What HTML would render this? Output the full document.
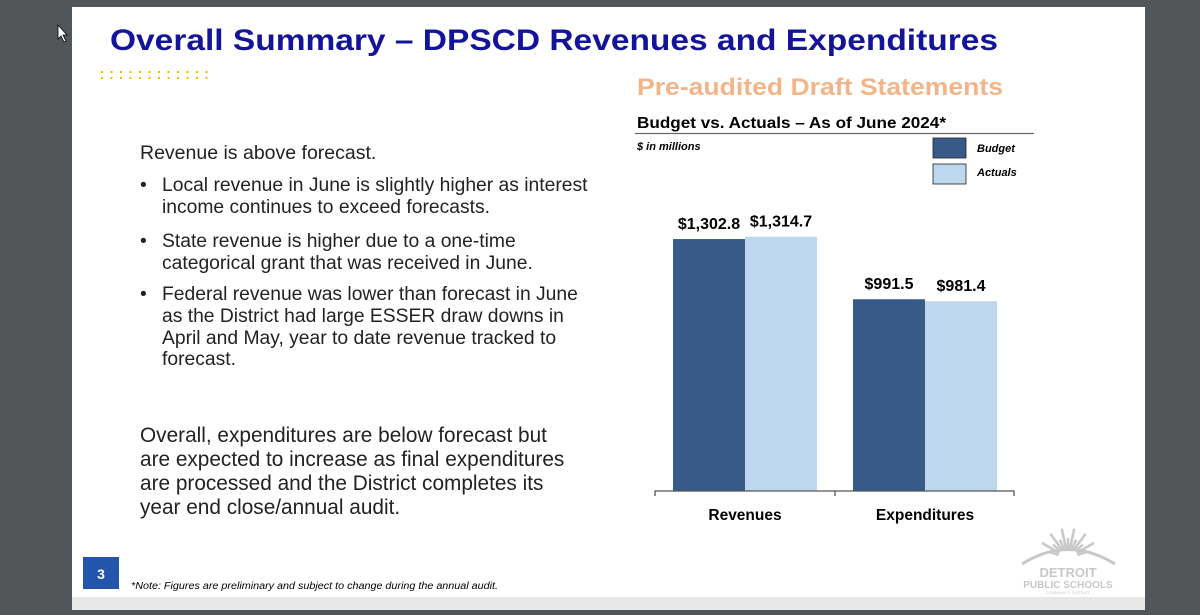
<!DOCTYPE html>
<html><head><meta charset="utf-8"><style>
body{margin:0;background:#525659;}
svg{display:block;font-family:"Liberation Sans",sans-serif;}
</style></head><body>
<svg width="1200" height="615" viewBox="0 0 1200 615">
<rect x="0" y="0" width="1200" height="615" fill="#525659"/>
<polygon points="58,25 58,39 61,36 64,42 66,41 63,35 67,35" fill="#fff" stroke="#000" stroke-width="0.8"/>
<rect x="72" y="7" width="1073" height="603" fill="#fff"/>
<rect x="72" y="597" width="1073" height="13" fill="#e7e7e7"/>
<text x="110" y="50" font-size="30" font-weight="bold" fill="#14149a" textLength="888" lengthAdjust="spacingAndGlyphs">Overall Summary – DPSCD Revenues and Expenditures</text>
<g id="dots" fill="#f5b800"></g>
<g font-size="19.3" fill="#222">
<text x="140" y="159" font-size="19.5">Revenue is above forecast.</text>
<text x="140" y="191">•</text><text x="162" y="191">Local revenue in June is slightly higher as interest</text>
<text x="162" y="213">income continues to exceed forecasts.</text>
<text x="140" y="247">•</text><text x="162" y="247">State revenue is higher due to a one-time</text>
<text x="162" y="269">categorical grant that was received in June.</text>
<text x="140" y="300">•</text><text x="162" y="300">Federal revenue was lower than forecast in June</text>
<text x="162" y="322">as the District had large ESSER draw downs in</text>
<text x="162" y="344">April and May, year to date revenue tracked to</text>
<text x="162" y="365">forecast.</text>
<g font-size="20.8">
<text x="140" y="442">Overall, expenditures are below forecast but</text>
<text x="140" y="466">are expected to increase as final expenditures</text>
<text x="140" y="490">are processed and the District completes its</text>
<text x="140" y="514">year end close/annual audit.</text>
</g></g>
<text x="637" y="95" font-size="24" font-weight="bold" fill="#f2b58a" textLength="366" lengthAdjust="spacingAndGlyphs">Pre-audited Draft Statements</text>
<text x="637" y="128" font-size="16" font-weight="bold" fill="#000" textLength="309" lengthAdjust="spacingAndGlyphs">Budget vs. Actuals – As of June 2024*</text>
<line x1="635" y1="133.5" x2="1034" y2="133.5" stroke="#666" stroke-width="1.2"/>
<text x="637" y="150" font-size="11" font-style="italic" font-weight="bold" fill="#000">$ in millions</text>
<g><rect x="933" y="138" width="33" height="20" fill="#385a88" stroke="#222" stroke-width="0.8"/><text x="977" y="152" font-size="11" font-style="italic" font-weight="bold">Budget</text></g>
<g><rect x="933" y="164" width="33" height="20" fill="#bdd7ee" stroke="#222" stroke-width="0.8"/><text x="977" y="176" font-size="11" font-style="italic" font-weight="bold">Actuals</text></g>
<g id="chart"></g>
<rect x="83" y="557" width="36" height="32" fill="#2355ab"/>
<text x="101" y="579" font-size="14" font-weight="bold" fill="#fff" text-anchor="middle">3</text>
<text x="131" y="589" font-size="10" font-style="italic" fill="#000" textLength="367" lengthAdjust="spacingAndGlyphs">*Note: Figures are preliminary and subject to change during the annual audit.</text>
<g fill="#c8c8c8" stroke="#c8c8c8">
<path d="M1022,564 Q1068,535 1115,564" fill="none" stroke-width="3"/>
<g id="rays" stroke-width="2.5"></g>
<text x="1068" y="577" font-size="13" font-weight="bold" stroke="none" text-anchor="middle">DETROIT</text>
<text x="1068" y="588" font-size="10" font-weight="bold" stroke="none" text-anchor="middle">PUBLIC SCHOOLS</text>
<text x="1068" y="594" font-size="4" stroke="none" text-anchor="middle">COMMUNITY DISTRICT</text>
</g>
</svg>
<script>
const categories=["Revenues","Expenditures"];
const budget=[1302.8,991.5];
const actuals=[1314.7,981.4];
const budgetLabels=["$1,302.8","$991.5"];
const actualLabels=["$1,314.7","$981.4"];
const NS="http://www.w3.org/2000/svg";
const chart=document.getElementById('chart');
const base=491, pxPer=0.1934;
const y=v=>base-v*pxPer;
const groupX=i=>655+i*180;
function mk(tag,attrs,parent){const e=document.createElementNS(NS,tag);for(const k in attrs)e.setAttribute(k,attrs[k]);parent.appendChild(e);return e;}
categories.forEach((c,i)=>{
  const gx=groupX(i);
  const b=mk('rect',{x:gx+18,y:y(budget[i]),width:72,height:base-y(budget[i]),fill:'#385a88'},chart);
  
  
  const a=mk('rect',{x:gx+90,y:y(actuals[i]),width:72,height:base-y(actuals[i]),fill:'#bdd7ee'},chart);
  
  
  const t1=mk('text',{x:gx+54,y:y(budget[i])-10,'font-size':16,'font-weight':'bold','text-anchor':'middle'},chart);
  t1.textContent=budgetLabels[i];
  
  
  const t2=mk('text',{x:gx+126,y:y(actuals[i])-10,'font-size':16,'font-weight':'bold','text-anchor':'middle'},chart);
  t2.textContent=actualLabels[i];
  
  
  const cl=mk('text',{x:gx+90,y:520,'font-size':15.5,'font-weight':'bold','text-anchor':'middle'},chart);
  cl.textContent=c;
  
  
});
const ax=mk('path',{d:'M655,496 V491 H1014 V496 M835,491 V496',stroke:'#555','stroke-width':1.3,fill:'none'},chart);


const dots=document.getElementById('dots');
for(let r=0;r<2;r++)for(let c=0;c<12;c++)mk('rect',{x:101+c*9.5,y:71+r*6,width:2,height:2},dots);
const rays=document.getElementById('rays');
for(let k=0;k<13;k++){const ang=Math.PI*(0.1+0.8*k/12);const cx=1068,cy=558;const r1=10,r2=20+(k%2)*10;
mk('line',{x1:cx-Math.cos(ang)*r1,y1:cy-Math.sin(ang)*r1,x2:cx-Math.cos(ang)*r2,y2:cy-Math.sin(ang)*r2},rays);}
</script>
</body></html>
